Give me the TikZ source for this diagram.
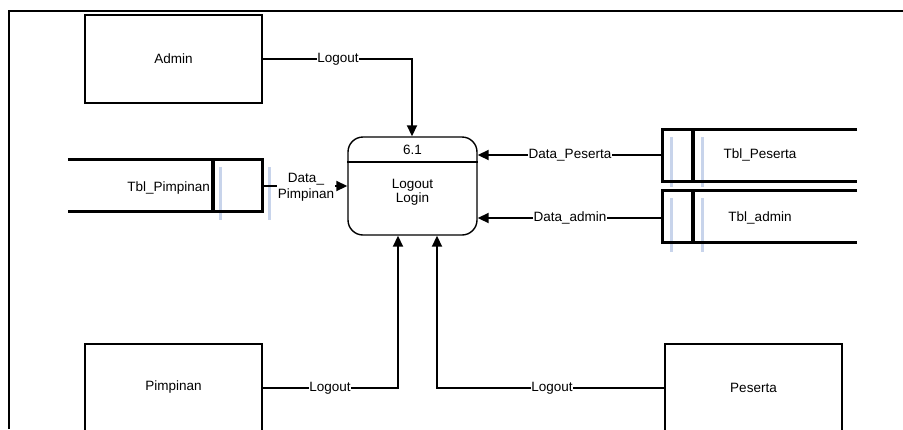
\documentclass[tikz,border=0pt]{standalone}
\usepackage{fontspec}
\setmainfont{Liberation Sans}
\usetikzlibrary{arrows.meta}
\begin{document}
\begin{tikzpicture}[x=1pt,y=-1pt,
  font=\fontsize{13.5}{14}\selectfont,
  ext/.style={draw, line width=2pt, minimum width=177pt, minimum height=88pt, inner sep=0pt},
  proc/.style={draw, line width=1.4pt, rounded corners=15pt, minimum width=129pt, minimum height=98pt, inner sep=0pt},
  store/.style={draw=none, minimum width=194pt, minimum height=51pt, inner sep=0pt},
  sline/.style={line width=3.2pt},
  ghost/.style={line width=3pt, draw={rgb,255:red,200;green,212;blue,235}},
  flow/.style={line width=1.8pt},
  flowar/.style={line width=1.8pt, -{Triangle[length=11pt,width=10pt]}},
  lbl/.style={fill=white, inner sep=0.6pt},
  txt/.style={inner sep=0pt}
]
\clip (0,0) rectangle (903,429);
\fill[white] (0,0) rectangle (903,429);
% frame
\draw[line width=2.6pt] (9,429) coordinate (fl) -- (9,11) coordinate (ft) -- (905,11) coordinate (fr);

% external entities
\node[ext] (admin) at (173.5,59) {Admin};
\node[ext] (pimp) at (173.5,387.5) {Pimpinan};
\node[ext] (pes) at (753.5,387.5) {Peserta};

% process
\node[proc] (p) at (412.5,186) {};
\draw[line width=1.4pt] (p.west |- 0,162) -- (p.east |- 0,162);
\node[txt] (pnum) at (412.5,150) {6.1};
\node[txt, align=center, font=\fontsize{13.5}{11.5}\selectfont] (pname) at (412.5,192) {Logout\\Login};

% ghost lines (behind stores)
\draw[ghost] (220,167) -- (220,220);
\draw[ghost] (269,167) -- (269,220);
\draw[ghost] (671,137) -- (671,187);
\draw[ghost] (702,137) -- (702,187);
\draw[ghost] (671,198) -- (671,252);
\draw[ghost] (702,198) -- (702,252);

% data stores
\node[store] (tp) at (165,185.5) {};
\draw[sline] (tp.north west) -- (tp.north east) -- (tp.south east) -- (tp.south west);
\draw[sline] (213,160) -- (213,211);
\node[txt, anchor=east] (tptxt) at (210,188) {Tbl\_Pimpinan};

\node[store] (tpes) at (760,155.5) {};
\draw[sline] (tpes.north east) -- (tpes.north west) -- (tpes.south west) -- (tpes.south east);
\draw[sline] (693,130) -- (693,181);
\node[txt] (tpestxt) at (760,155) {Tbl\_Peserta};

\node[store] (tadm) at (760,216.5) {};
\draw[sline] (tadm.north east) -- (tadm.north west) -- (tadm.south west) -- (tadm.south east);
\draw[sline] (693,191) -- (693,242);
\node[txt] (tadmtxt) at (760,218) {Tbl\_admin};

% flows
\draw[flowar] (admin.east) -- (412,59) -- (p.north -| 412,0);
\node[lbl] (l1) at (338,59) {Logout};

\draw[flowar] (pimp.east |- 0,388) -- (398,388) -- (p.south -| 398,0);
\node[lbl] (l2) at (330,388) {Logout};

\draw[flowar] (pes.west |- 0,388) -- (437,388) -- (p.south -| 437,0);
\node[lbl] (l3) at (552,388) {Logout};

\draw[flowar] (tp.east |- 0,186) -- (p.west |- 0,186);
\node[lbl, align=center, font=\fontsize{13.5}{16}\selectfont] (l4) at (306,187) {Data\_\\Pimpinan};

\draw[flowar] (tpes.west |- 0,155) -- (p.east |- 0,155);
\node[lbl] (l5) at (570,155) {Data\_Peserta};

\draw[flowar] (tadm.west |- 0,218) -- (p.east |- 0,218);
\node[lbl] (l6) at (570,218) {Data\_admin};
\end{tikzpicture}
\end{document}
